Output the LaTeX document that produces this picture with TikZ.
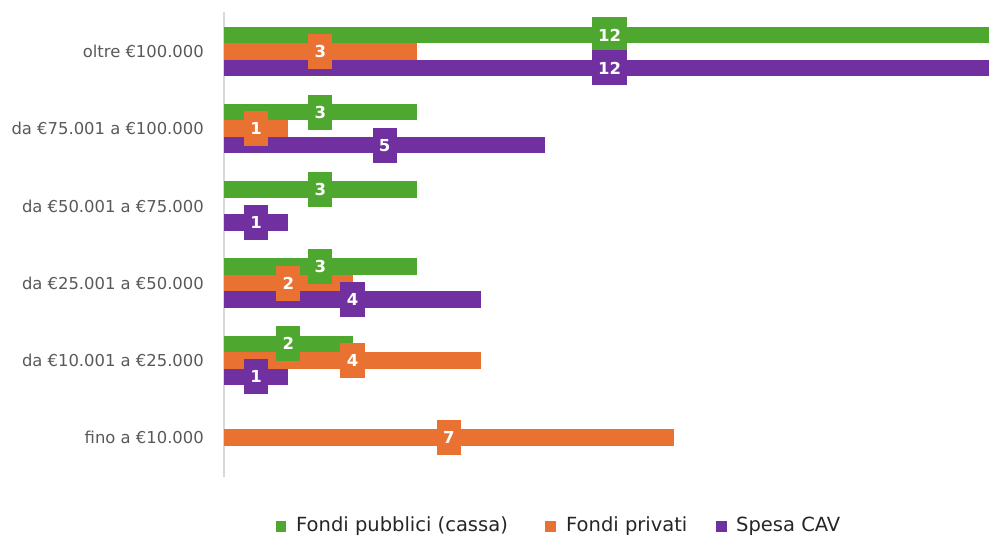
\documentclass[tikz,border=0pt]{standalone}
\usepackage{fontspec}
\setmainfont{DejaVu Sans}
\definecolor{cgreen}{HTML}{4EA72E}
\definecolor{corange}{HTML}{E97132}
\definecolor{cpurple}{HTML}{7030A0}
\definecolor{cgray}{HTML}{595959}
\definecolor{caxis}{HTML}{D9D9D9}
\newcommand\barfill[3]{\fill[#1] (224,{#2-8.25}) rectangle ({min(224+#3*64.25,989)},{#2+8.25});}
\newcommand\barlab[4]{\node[vallab=#1] (#4) at ({224+#3*64.25/2},#2) {#3};}
\begin{document}
\begin{tikzpicture}[x=1pt,y=-1pt,
  vallab/.style={fill=#1, text=white, font=\bfseries\fontsize{16.5}{16.5}\selectfont,
    minimum height=35pt, inner xsep=6.3pt, inner ysep=0pt},
  catlab/.style={anchor=east, text=cgray, font=\fontsize{16.4}{17}\selectfont, inner sep=0pt},
  legsq/.style={fill=#1, minimum size=10.5pt, inner sep=0pt},
  legtxt/.style={anchor=west, text=black!85, font=\fontsize{19.5}{20}\selectfont, inner sep=0pt}]
\useasboundingbox (0,0) rectangle (989,540);
% axis
\coordinate (axtop) at (224,12);
\coordinate (axbot) at (224,477);
\draw[caxis, line width=1.3pt] (axtop) -- (axbot);
% category labels
\node[catlab] (cat1) at (204,51.5) {oltre €100.000};
\node[catlab] (cat2) at (204,128.7) {da €75.001 a €100.000};
\node[catlab] (cat3) at (204,205.9) {da €50.001 a €75.000};
\node[catlab] (cat4) at (204,283.1) {da €25.001 a €50.000};
\node[catlab] (cat5) at (204,360.3) {da €10.001 a €25.000};
\node[catlab] (cat6) at (204,437.5) {fino a €10.000};
% bars
\barfill{cgreen}{35}{12}
\barfill{corange}{51.5}{3}
\barfill{cpurple}{68}{12}
\barfill{cgreen}{112.2}{3}
\barfill{corange}{128.7}{1}
\barfill{cpurple}{145.2}{5}
\barfill{cgreen}{189.4}{3}
\barfill{cpurple}{222.4}{1}
\barfill{cgreen}{266.6}{3}
\barfill{corange}{283.1}{2}
\barfill{cpurple}{299.6}{4}
\barfill{cgreen}{343.8}{2}
\barfill{corange}{360.3}{4}
\barfill{cpurple}{376.8}{1}
\barfill{corange}{437.5}{7}
% value labels
\barlab{cgreen}{35}{12}{g1}
\barlab{corange}{51.5}{3}{o1}
\barlab{cpurple}{68}{12}{p1}
\barlab{cgreen}{112.2}{3}{g2}
\barlab{corange}{128.7}{1}{o2}
\barlab{cpurple}{145.2}{5}{p2}
\barlab{cgreen}{189.4}{3}{g3}
\barlab{cpurple}{222.4}{1}{p3}
\barlab{cgreen}{266.6}{3}{g4}
\barlab{corange}{283.1}{2}{o4}
\barlab{cpurple}{299.6}{4}{p4}
\barlab{cgreen}{343.8}{2}{g5}
\barlab{corange}{360.3}{4}{o5}
\barlab{cpurple}{376.8}{1}{p5}
\barlab{corange}{437.5}{7}{o6}
% legend
\node[legsq=cgreen] (lsq1) at (281,526.5) {};
\node[legtxt] (ltx1) at (296,526.5) {Fondi pubblici (cassa)};
\node[legsq=corange] (lsq2) at (550.5,526.5) {};
\node[legtxt] (ltx2) at (566,526.5) {Fondi privati};
\node[legsq=cpurple] (lsq3) at (721.5,526.5) {};
\node[legtxt] (ltx3) at (736,526.5) {Spesa CAV};
\end{tikzpicture}
\end{document}
